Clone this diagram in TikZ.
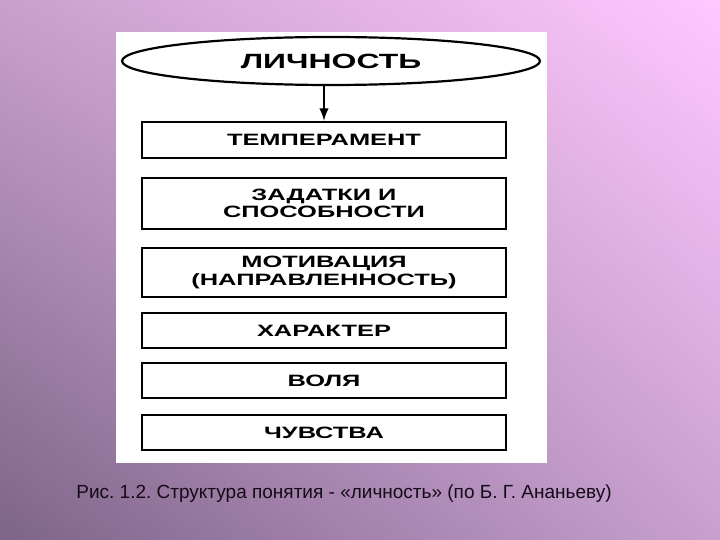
\documentclass[tikz,border=0pt]{standalone}
\usepackage{fontspec}
\setmainfont{Liberation Sans}
\newfontfamily\boxfont[FakeStretch=1.55]{Liberation Sans}
\usepackage{tikz}
\usepackage{xcolor}
\usetikzlibrary{shadings,shapes.geometric}

\definecolor{bgTL}{HTML}{C8A0CC}
\definecolor{bgTR}{HTML}{FFC8FF}
\definecolor{bgBL}{HTML}{7E6488}
\definecolor{bgBR}{HTML}{C8A0D0}
\definecolor{captext}{HTML}{140A18}

\frenchspacing
\begin{document}
\begin{tikzpicture}[x=0.5pt,y=-0.5pt,
    part/.style={draw,line width=1.3pt,fill=white,minimum width=182pt,align=center,
        inner sep=0pt,font=\boxfont\bfseries\fontsize{8.2}{8.6}\selectfont}]
    % background and page
    \shade[upper left=bgTL,upper right=bgTR,lower left=bgBL,lower right=bgBR]
        (0,0) rectangle (720,540);
    \useasboundingbox (0,0) rectangle (720,540);
    \fill[white] (116,32) rectangle (547,463);

    \node[ellipse,draw,line width=1.1pt,fill=white,minimum width=209pt,minimum height=24pt,inner sep=0pt,
        font=\boxfont\bfseries\fontsize{10.3}{11}\selectfont] (lichnost) at (331,61) {ЛИЧНОСТЬ};

    \node[part,minimum height=18pt] (temp) at (324,140) {ТЕМПЕРАМЕНТ};
    \node[part,minimum height=25.5pt] (zadatki) at (324,203.5) {ЗАДАТКИ И\\СПОСОБНОСТИ};
    \node[part,minimum height=24.5pt] (motiv) at (324,272.5) {МОТИВАЦИЯ\\(НАПРАВЛЕННОСТЬ)};
    \node[part,minimum height=17.5pt] (harakter) at (324,330.5) {ХАРАКТЕР};
    \node[part,minimum height=17.5pt] (volya) at (324,380.5) {ВОЛЯ};
    \node[part,minimum height=17.5pt] (chuvstva) at (324,432.5) {ЧУВСТВА};

    \draw[->,>=latex,line width=1.1pt] (lichnost.south -| temp.north) -- (temp.north);

    \node[font=\fontsize{9.5}{11}\selectfont,text=captext] (caption) at (344,494)
        {Рис. 1.2. Структура понятия - «личность» (по Б. Г. Ананьеву)};

\end{tikzpicture}
\end{document}
